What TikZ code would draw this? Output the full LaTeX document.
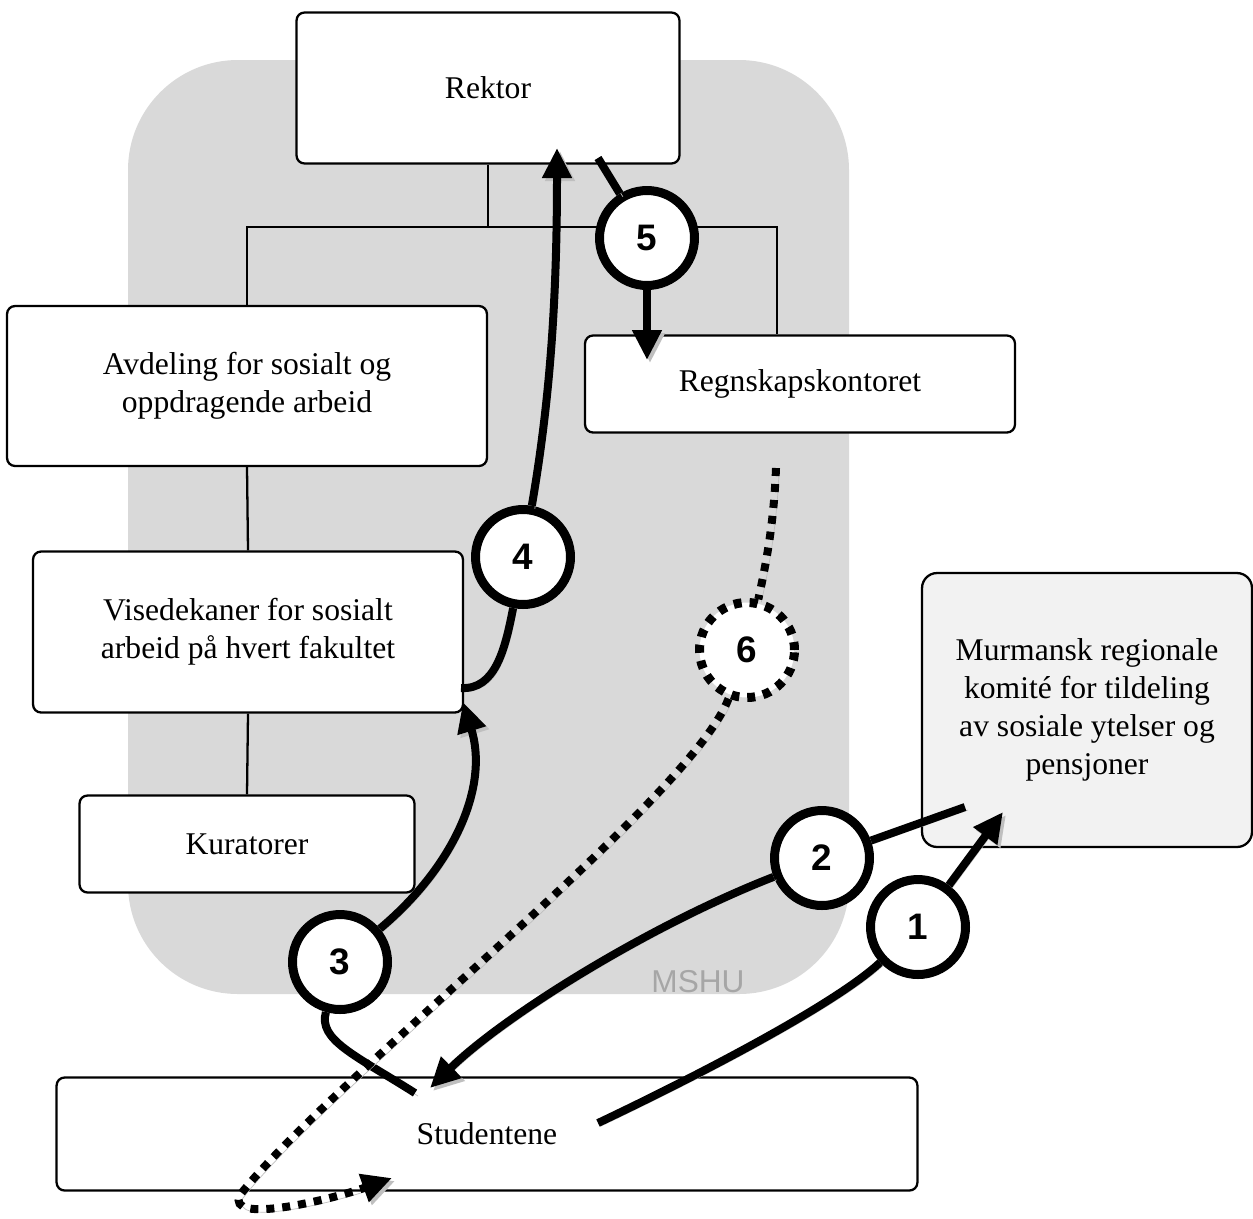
\documentclass[tikz,border=0pt]{standalone}
\usepackage{fontspec}
\setmainfont{Liberation Serif}
\newfontfamily\numfont{Liberation Sans}
\usepackage{tikz}
\usetikzlibrary{arrows.meta}
\definecolor{mshufill}{HTML}{D9D9D9}
\definecolor{komitefill}{HTML}{F2F2F2}
\definecolor{mshutext}{HTML}{A6A6A6}
\tikzset{
  orgbox/.style = {draw=black, fill=white, line width=1.3pt,
    rounded corners=0.16cm, align=center, inner sep=0pt,
    font=\fontsize{18}{21.5}\selectfont},
  komite/.style = {orgbox, fill=komitefill, rounded corners=0.3cm},% boks utenfor MSHU
  orgline/.style = {draw=black, line width=1.3pt},
  numcirc/.style = {circle, draw=black, fill=white, line width=0.18cm,
    minimum size=1.9cm, inner sep=0pt,
    font=\numfont\bfseries\fontsize{21}{21}\selectfont},% steg i saken
  numcirc_d/.style = {numcirc, dash pattern=on 0.16cm off 0.16cm},% steg 6, stiplet
  flow/.style = {line width=0.16cm,
    preaction={draw=black!25, transform canvas={shift={(0.06cm,-0.06cm)}}}},
  flow_d/.style = {flow, dash pattern=on 0.16cm off 0.16cm}
}

\begin{document}
\begin{tikzpicture}[x=0.02cm, y=-0.02cm,
  >={Triangle[length=0.6cm,width=0.56cm]}]
\useasboundingbox (0,0) rectangle (1253,1218);
% MSHU-feltet
\fill[mshufill, rounded corners=2.2cm] (128,60) rectangle (849,994);
\node[text=mshutext, inner sep=0pt, font=\numfont\fontsize{18}{18}\selectfont]
  (mshu) at (698,982) {MSHU};

% organisasjonen
\node[orgbox, minimum width=7.66cm, minimum height=3.02cm] (rektor) at (488,88) {Rektor};
\node[orgbox, minimum width=9.6cm, minimum height=3.2cm] (avdeling) at (247,386)
  {Avdeling for sosialt og\\oppdragende arbeid};
\node[orgbox, minimum width=8.6cm, minimum height=1.94cm] (regnskap) at (800,384)
  {Regnskapskontoret};
\node[orgbox, minimum width=8.6cm, minimum height=3.22cm] (visedekan) at (248,632)
  {Visedekaner for sosialt\\arbeid på hvert fakultet};
\node[orgbox, minimum width=6.7cm, minimum height=1.94cm] (kurator) at (247,844)
  {Kuratorer};
\node[komite, minimum width=6.6cm, minimum height=5.48cm] (murmansk) at (1087,710)
  {Murmansk regionale\\komité for tildeling\\av sosiale ytelser og\\pensjoner};
\node[orgbox, minimum width=17.22cm, minimum height=2.26cm] (studenter) at (487,1134)
  {Studentene};

\coordinate (junction) at (488,227);
\coordinate (barR) at (777,227);
\draw[orgline] (rektor.south) -- (junction);
\draw[orgline] (avdeling.north) |- (barR) -- (barR |- regnskap.north);
\draw[orgline] (avdeling.south) -- (visedekan.north);
\draw[orgline] (visedekan.south) -- (kurator.north);

% stegene
\coordinate (s1) at (598,1123);
\coordinate (t1) at (1003,812);
\coordinate (s2) at (965,807);
\coordinate (t2) at (430,1088);
\coordinate (s3) at (415,1093);
\coordinate (t3) at (463,702);
\coordinate (s4) at (461,688);
\coordinate (t4) at (557,148);
\coordinate (s5) at (598,158);
\coordinate (t5) at (647,360);
\coordinate (s6) at (776,468);
\coordinate (t6) at (392,1178);

\node[numcirc] (c1) at (918,927) {1};
\node[numcirc] (c2) at (822,858) {2};
\node[numcirc] (c3) at (340,962) {3};
\node[numcirc] (c4) at (523,557) {4};
\node[numcirc] (c5) at (647,238) {5};
\node[numcirc_d] (c6) at (747,650) {6};

\draw[flow] (s1) .. controls (720,1065) and (840,1000) .. (c1);
\draw[flow,->] (c1) -- (t1);
\draw[flow] (s2) -- (c2);
\draw[flow,->] (c2) .. controls (650,925) and (505,1015) .. (t2);
\draw[flow] (s3) .. controls (355,1055) and (318,1040) .. (c3);
\draw[flow,->] (c3) .. controls (450,870) and (490,790) .. (t3);
\draw[flow] (s4) .. controls (495,690) and (505,650) .. (c4);
\draw[flow,->] (c4) .. controls (550,400) and (557,300) .. (t4);
\draw[flow] (s5) -- (c5);
\draw[flow,->] (c5) -- (t5);
\draw[flow_d] (s6) .. controls (774,520) and (767,560) .. (c6);
\draw[flow_d,->] (c6) .. controls (690,800) and (330,1080) .. (240,1195)
  .. controls (225,1225) and (330,1200) .. (t6);
\end{tikzpicture}
\end{document}
